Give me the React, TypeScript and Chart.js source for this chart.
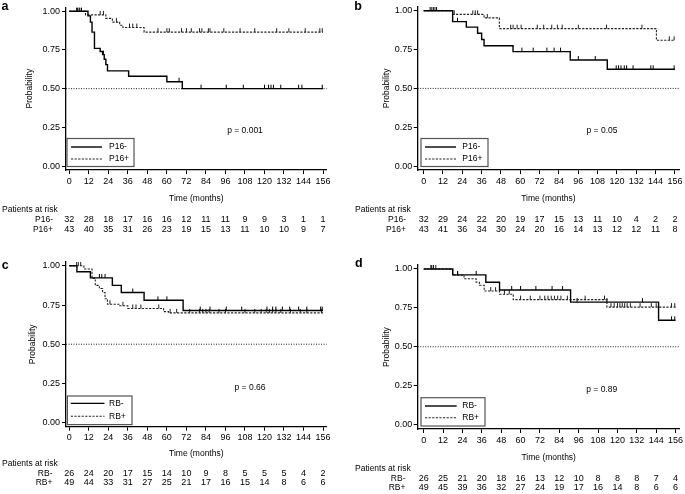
import React, { useEffect, useRef } from 'react';
import { Chart, registerables } from 'chart.js';

Chart.register(...registerables);

const FONT = '"Liberation Sans", Arial, Helvetica, sans-serif';

const timeTicks = [0, 12, 24, 36, 48, 60, 72, 84, 96, 108, 120, 132, 144, 156];
const probTicks = [0, 0.25, 0.5, 0.75, 1];

// ---- Panel a : P16 ----
const aNegTimes = [0, 11.5, 13, 14, 15.5, 19, 20.5, 21.5, 22.5, 23.5, 36.5, 60, 69.5, 156];
const aNegSurv = [1, 0.97, 0.93, 0.865, 0.76, 0.74, 0.72, 0.69, 0.655, 0.615, 0.58, 0.545, 0.5, 0.5];
const aNegCens = [4.5, 6, 7.5, 21, 67.5, 81, 96.5, 107, 120, 122.5, 124, 125.5, 130, 141, 143, 155.5];
const aPosTimes = [0, 10, 22.5, 26.5, 31, 33, 46, 156];
const aPosSurv = [1, 0.977, 0.954, 0.93, 0.91, 0.895, 0.865, 0.865];
const aPosCens = [5, 6.5, 19, 21, 29, 37, 39, 41.5, 54.5, 60, 61.5, 69, 72, 75, 80, 81.5, 85.5, 86.5, 95, 105, 114, 127.5, 135, 145, 154, 155.5];
const aNegRisk = [32, 28, 18, 17, 16, 16, 12, 11, 11, 9, 9, 3, 1, 1];
const aPosRisk = [43, 40, 35, 31, 26, 23, 19, 15, 13, 11, 10, 10, 9, 7];

// ---- Panel b : P16 ----
const bNegTimes = [0, 18, 26.5, 33.5, 36, 37.5, 55.5, 91, 114, 156];
const bNegSurv = [1, 0.93, 0.895, 0.855, 0.815, 0.775, 0.737, 0.683, 0.623, 0.623];
const bNegCens = [4, 6, 8, 21, 61, 68, 76.5, 81, 85, 96, 106.5, 119.5, 121, 122.5, 124.5, 126, 130, 141, 142.5, 155.5];
const bPosTimes = [0, 18, 37.5, 47, 144.5, 156];
const bPosSurv = [1, 0.977, 0.954, 0.885, 0.81, 0.81];
const bPosCens = [5, 7, 19, 30.5, 32, 33.5, 39.5, 54, 55.5, 58, 60.5, 70.5, 74.5, 79.5, 83, 86, 96, 113.5, 135.5, 152.5, 155.5];
const bNegRisk = [32, 29, 24, 22, 20, 19, 17, 15, 13, 11, 10, 4, 2, 2];
const bPosRisk = [43, 41, 36, 34, 30, 24, 20, 16, 14, 13, 12, 12, 11, 8];

// ---- Panel c : RB ----
const cNegTimes = [0, 4.7, 13, 26.5, 32, 46, 70, 156];
const cNegSurv = [1, 0.962, 0.923, 0.875, 0.83, 0.78, 0.715, 0.715];
const cNegCens = [18.5, 20, 22, 39, 54.5, 60, 80.5, 86.5, 96.5, 106, 121.5, 125, 127, 131, 135.5, 141, 146, 154.5, 155.5];
const cPosTimes = [0, 9, 14, 16, 18.5, 20.5, 22, 23.5, 31, 36, 58, 61, 156];
const cPosSurv = [1, 0.98, 0.92, 0.875, 0.855, 0.83, 0.79, 0.755, 0.745, 0.728, 0.708, 0.7, 0.7];
const cPosCens = [4.5, 5.5, 7, 25, 33, 39, 41, 44, 55, 62, 66, 74, 80, 82, 84, 86, 92, 96, 108, 114, 118, 121, 123, 125, 127, 130, 136, 142, 146, 155];
const cNegRisk = [26, 24, 20, 17, 15, 14, 10, 9, 8, 5, 5, 5, 4, 2];
const cPosRisk = [49, 44, 33, 31, 27, 25, 21, 17, 16, 15, 14, 8, 6, 6];

// ---- Panel d : RB ----
const dNegTimes = [0, 18, 38.5, 47, 91, 145.5, 156];
const dNegSurv = [1, 0.962, 0.915, 0.865, 0.787, 0.67, 0.67];
const dNegCens = [4.5, 6, 21, 32.5, 54.5, 60, 69.5, 79.5, 86, 95, 113.5, 135.5, 153.5, 155.5];
const dPosTimes = [0, 18, 25, 32.5, 34.5, 37.5, 47, 55.5, 113.5, 156];
const dPosSurv = [1, 0.96, 0.937, 0.915, 0.895, 0.858, 0.838, 0.803, 0.755, 0.755];
const dPosCens = [5, 7.5, 21, 41.5, 44.5, 50, 53, 60, 66, 72, 75, 77, 79, 81, 83, 85, 89, 100, 112, 116, 118, 120, 121.5, 123, 124.5, 126, 128, 134, 141, 144, 153.5, 155.5];
const dNegRisk = [26, 25, 21, 20, 18, 16, 13, 12, 10, 8, 8, 8, 7, 4];
const dPosRisk = [49, 45, 39, 36, 32, 27, 24, 19, 17, 16, 14, 8, 6, 6];

const p16Labels = ['P16-', 'P16+'];
const rbLabels = ['RB-', 'RB+'];

type Series = { times: number[]; surv: number[]; cens: number[]; risk: number[] };
type Geo = {
  left: number; top: number; w: number; h: number;
  padLeft: number; yW: number; padRight: number; padTop: number; padBottom: number; xH: number;
  xmin: number; xmax: number; ymin: number; ymax: number; xTickPad: number; yTickPad: number;
  letter: { x: number; y: number };
  p: { x: number; y: number };
  legend: { x: number; y: number; w: number; h: number; lineX0: number; lineX1: number; textX: number; row1: number; row2: number };
  risk: { parX: number; labelRight: number; par: number; r1: number; r2: number };
};
type PanelCfg = { letter: string; labels: string[]; neg: Series; pos: Series; pText: string; geo: Geo };

function survAt(times: number[], surv: number[], t: number) {
  let v = surv[0];
  for (let i = 0; i < times.length; i++) if (times[i] <= t) v = surv[i];
  return v;
}

function makeTick(color: string): HTMLCanvasElement {
  const c = document.createElement('canvas');
  c.width = 3;
  c.height = 10;
  const g = c.getContext('2d')!;
  g.strokeStyle = color;
  g.lineWidth = 1;
  g.beginPath();
  g.moveTo(1.5, 1);
  g.lineTo(1.5, 5);
  g.stroke();
  return c;
}

const panels: PanelCfg[] = [
  {
    letter: 'a', labels: p16Labels, pText: 'p = 0.001',
    neg: { times: aNegTimes, surv: aNegSurv, cens: aNegCens, risk: aNegRisk },
    pos: { times: aPosTimes, surv: aPosSurv, cens: aPosCens, risk: aPosRisk },
    geo: {
      left: 0, top: 0, w: 342, h: 247,
      padLeft: 24.1, yW: 41.9, padRight: 15.4, padTop: 6.1, padBottom: 43.6, xH: 33.4,
      xmin: -2, xmax: 158.2, ymin: -0.0256, ymax: 1.025, xTickPad: 2.5, yTickPad: 2,
      letter: { x: 1.5, y: 9.5 }, p: { x: 245, y: 131 },
      legend: { x: 67, y: 138.5, w: 67, h: 28, lineX0: 71, lineX1: 102, textX: 109, row1: 147, row2: 159 },
      risk: { parX: 2, labelRight: 53, par: 210, r1: 220, r2: 229.5 },
    },
  },
  {
    letter: 'b', labels: p16Labels, pText: 'p = 0.05',
    neg: { times: bNegTimes, surv: bNegSurv, cens: bNegCens, risk: bNegRisk },
    pos: { times: bPosTimes, surv: bPosSurv, cens: bPosCens, risk: bPosRisk },
    geo: {
      left: 342, top: 0, w: 343, h: 247,
      padLeft: 39.3, yW: 36.4, padRight: 3.3, padTop: 6.1, padBottom: 43.6, xH: 33.4,
      xmin: -3.69, xmax: 158.6, ymin: -0.0256, ymax: 1.025, xTickPad: 2.5, yTickPad: 1.5,
      letter: { x: 12.3, y: 10 }, p: { x: 260, y: 131 },
      legend: { x: 79, y: 138.5, w: 67, h: 28, lineX0: 83, lineX1: 114, textX: 120.3, row1: 147, row2: 159 },
      risk: { parX: 13, labelRight: 64, par: 210, r1: 220, r2: 229.5 },
    },
  },
  {
    letter: 'c', labels: rbLabels, pText: 'p = 0.66',
    neg: { times: cNegTimes, surv: cNegSurv, cens: cNegCens, risk: cNegRisk },
    pos: { times: cPosTimes, surv: cPosSurv, cens: cPosCens, risk: cPosRisk },
    geo: {
      left: 0, top: 247, w: 342, h: 247,
      padLeft: 27.1, yW: 38.9, padRight: 15.4, padTop: 14.9, padBottom: 35.6, xH: 31.7,
      xmin: -2, xmax: 158.2, ymin: -0.026, ymax: 1.025, xTickPad: 1, yTickPad: 2,
      letter: { x: 1.7, y: 21.5 }, p: { x: 250, y: 141 },
      legend: { x: 67.4, y: 149, w: 64.6, h: 28.6, lineX0: 70.8, lineX1: 104.5, textX: 109, row1: 156.4, row2: 169.2 },
      risk: { parX: 2, labelRight: 52.5, par: 217, r1: 226.3, r2: 235.3 },
    },
  },
  {
    letter: 'd', labels: rbLabels, pText: 'p = 0.89',
    neg: { times: dNegTimes, surv: dNegSurv, cens: dNegCens, risk: dNegRisk },
    pos: { times: dPosTimes, surv: dPosSurv, cens: dPosCens, risk: dPosRisk },
    geo: {
      left: 342, top: 247, w: 343, h: 247,
      padLeft: 39.3, yW: 36.4, padRight: 3.3, padTop: 18.1, padBottom: 31.3, xH: 33.7,
      xmin: -3.69, xmax: 158.6, ymin: -0.029, ymax: 1.025, xTickPad: 1.9, yTickPad: 1.5,
      letter: { x: 13, y: 19.7 }, p: { x: 259.7, y: 142.3 },
      legend: { x: 79, y: 150.7, w: 64, h: 28.3, lineX0: 83, lineX1: 114.7, textX: 120.3, row1: 159, row2: 170.7 },
      risk: { parX: 13, labelRight: 63.5, par: 222, r1: 231.3, r2: 240.3 },
    },
  },
];

const INK = '#000';
const DASH_INK = '#222';
const SOLID_W = 1.4;
const DASH_W = 1.1;
const DASH = [2.2, 1.4];

function KMPanel({ cfg }: { cfg: PanelCfg }) {
  const ref = useRef<HTMLCanvasElement>(null);
  useEffect(() => {
    const g = cfg.geo;
    const tickSolid = makeTick('#000');
    const tickDash = makeTick('#222');
    const decor = {
      id: 'kmDecor',
      beforeDatasetsDraw(chart: any) {
        const { ctx, chartArea, scales } = chart;
        const y = scales.y.getPixelForValue(0.5);
        ctx.save();
        ctx.strokeStyle = '#222';
        ctx.lineWidth = 1;
        ctx.setLineDash([1, 1.5]);
        ctx.beginPath();
        ctx.moveTo(chartArea.left, y);
        ctx.lineTo(chartArea.right, y);
        ctx.stroke();
        ctx.restore();
      },
      afterDraw(chart: any) {
        const { ctx, scales } = chart;
        ctx.save();
        ctx.fillStyle = INK;
        ctx.font = `bold 12.5px ${FONT}`;
        ctx.textAlign = 'left';
        ctx.textBaseline = 'alphabetic';
        ctx.fillText(cfg.letter, g.letter.x, g.letter.y);
        ctx.font = `8.5px ${FONT}`;
        ctx.textAlign = 'center';
        ctx.textBaseline = 'middle';
        ctx.fillText(cfg.pText, g.p.x, g.p.y);
        const L = g.legend;
        ctx.fillStyle = '#fff';
        ctx.fillRect(L.x, L.y, L.w, L.h);
        ctx.strokeStyle = '#555';
        ctx.lineWidth = 1.2;
        ctx.strokeRect(L.x, L.y, L.w, L.h);
        ctx.strokeStyle = INK;
        ctx.lineWidth = SOLID_W;
        ctx.beginPath();
        ctx.moveTo(L.lineX0, L.row1);
        ctx.lineTo(L.lineX1, L.row1);
        ctx.stroke();
        ctx.strokeStyle = DASH_INK;
        ctx.lineWidth = DASH_W;
        ctx.setLineDash(DASH);
        ctx.beginPath();
        ctx.moveTo(L.lineX0, L.row2);
        ctx.lineTo(L.lineX1, L.row2);
        ctx.stroke();
        ctx.setLineDash([]);
        ctx.fillStyle = INK;
        ctx.textAlign = 'left';
        ctx.font = `8.5px ${FONT}`;
        ctx.fillText(cfg.labels[0], L.textX, L.row1);
        ctx.fillText(cfg.labels[1], L.textX, L.row2);
        const R = g.risk;
        ctx.fillText('Patients at risk', R.parX, R.par);
        ctx.textAlign = 'right';
        ctx.fillText(cfg.labels[0], R.labelRight, R.r1);
        ctx.fillText(cfg.labels[1], R.labelRight, R.r2);
        ctx.textAlign = 'center';
        ctx.font = `9px ${FONT}`;
        timeTicks.forEach((t, i) => {
          const x = scales.x.getPixelForValue(t);
          ctx.fillText(String(cfg.neg.risk[i]), x, R.r1);
          ctx.fillText(String(cfg.pos.risk[i]), x, R.r2);
        });
        ctx.restore();
      },
    };

    const toPts = (s: Series) => s.times.map((t, i) => ({ x: t, y: s.surv[i] }));
    const toCens = (s: Series) => s.cens.map((t) => ({ x: t, y: survAt(s.times, s.surv, t) }));

    const chart = new Chart(ref.current!, {
      type: 'line',
      data: {
        datasets: [
          {
            label: cfg.labels[0], data: toPts(cfg.neg), stepped: 'before',
            borderColor: INK, borderWidth: SOLID_W, pointRadius: 0, fill: false,
          } as any,
          {
            label: cfg.labels[1], data: toPts(cfg.pos), stepped: 'before',
            borderColor: DASH_INK, borderWidth: DASH_W, borderDash: DASH, pointRadius: 0, fill: false,
          } as any,
          {
            label: cfg.labels[0] + ' censored', data: toCens(cfg.neg), showLine: false,
            pointStyle: tickSolid, pointRadius: 3, pointHoverRadius: 3,
          } as any,
          {
            label: cfg.labels[1] + ' censored', data: toCens(cfg.pos), showLine: false,
            pointStyle: tickDash, pointRadius: 3, pointHoverRadius: 3,
          } as any,
        ],
      },
      options: {
        animation: false,
        responsive: false,
        maintainAspectRatio: false,
        events: [],
        layout: { padding: { left: g.padLeft, right: g.padRight, top: g.padTop, bottom: g.padBottom } },
        plugins: { legend: { display: false }, tooltip: { enabled: false } },
        scales: {
          x: {
            type: 'linear', min: g.xmin, max: g.xmax,
            afterBuildTicks: (s: any) => { s.ticks = timeTicks.map((v) => ({ value: v })); },
            afterFit: (s: any) => { s.height = g.xH; },
            ticks: { font: { family: FONT, size: 9 }, color: INK, padding: g.xTickPad, maxRotation: 0, autoSkip: false, callback: (v: any) => String(v) },
            grid: { drawOnChartArea: false, drawTicks: true, tickLength: 4, color: INK, lineWidth: 1 },
            border: { display: true, color: INK, width: 1.3 },
            title: { display: true, text: 'Time (months)', font: { family: FONT, size: 8.5 }, color: INK, padding: 0 },
          },
          y: {
            type: 'linear', min: g.ymin, max: g.ymax,
            afterBuildTicks: (s: any) => { s.ticks = probTicks.map((v) => ({ value: v })); },
            afterFit: (s: any) => { s.width = g.yW; },
            ticks: { font: { family: FONT, size: 9 }, color: INK, padding: g.yTickPad, autoSkip: false, callback: (v: any) => Number(v).toFixed(2) },
            grid: { drawOnChartArea: false, drawTicks: true, tickLength: 4, color: INK, lineWidth: 1 },
            border: { display: true, color: INK, width: 1.3 },
            title: { display: true, text: 'Probability', font: { family: FONT, size: 8.5 }, color: INK, padding: 0 },
          },
        },
      } as any,
      plugins: [decor],
    });
    return () => chart.destroy();
  }, [cfg]);

  const g = cfg.geo;
  return (
    <canvas
      ref={ref}
      width={g.w}
      height={g.h}
      style={{ position: 'absolute', left: g.left, top: g.top, width: g.w, height: g.h }}
    />
  );
}

export default function App() {
  return (
    <div style={{ position: 'absolute', left: 0, top: 0, width: 685, height: 494, background: '#fff', overflow: 'hidden' }}>
      {panels.map((p) => (
        <KMPanel key={p.letter} cfg={p} />
      ))}
    </div>
  );
}
